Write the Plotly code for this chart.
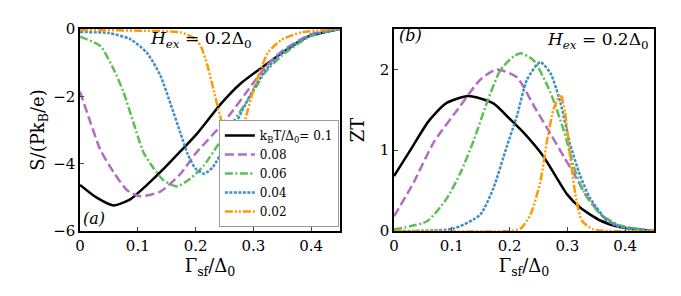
import plotly.graph_objects as go
from plotly.subplots import make_subplots

# --- Data ---
labels = ["k<sub>B</sub>T/Δ<sub>0</sub>= 0.1", "0.08", "0.06", "0.04", "0.02"]
colors = ["#000000", "#b36bc4", "#5cbf55", "#3f8fc8", "#ff9a00"]
dashes = ["solid", "9px,4px", "8px,2.5px,2px,2.5px", "3px,1.5px", "8px,2px,2px,2px,2px,2px"]

# S/(P kB/e) vs Gamma_sf/Delta_0
s_x0 = [0, 0.029, 0.058, 0.087, 0.116, 0.145, 0.174, 0.203, 0.243, 0.278, 0.319, 0.354, 0.394, 0.45]
s_y0 = [-4.63, -5.01, -5.24, -5.06, -4.63, -4.15, -3.63, -3.1, -2.24, -1.62, -1.09, -0.66, -0.23, 0.0]

s_x1 = [0, 0.017, 0.035, 0.058, 0.081, 0.104, 0.139, 0.174, 0.2, 0.25, 0.3, 0.32, 0.35, 0.4, 0.45]
s_y1 = [-1.86, -2.72, -3.58, -4.25, -4.78, -4.97, -4.83, -4.3, -3.7, -2.75, -1.6, -1.15, -0.65, -0.15, 0.0]

s_x2 = [0, 0.035, 0.058, 0.075, 0.093, 0.11, 0.128, 0.145, 0.168, 0.191, 0.214, 0.25, 0.3, 0.32, 0.35, 0.4, 0.45]
s_y2 = [-0.23, -0.5, -1.19, -1.86, -2.81, -3.67, -4.15, -4.5, -4.68, -4.44, -4.06, -3.15, -1.85, -1.3, -0.78, -0.2, 0.0]

s_x3 = [0, 0.05, 0.087, 0.116, 0.139, 0.157, 0.174, 0.186, 0.2, 0.215, 0.23, 0.25, 0.28, 0.3, 0.32, 0.35, 0.4, 0.45]
s_y3 = [-0.09, -0.12, -0.3, -0.71, -1.38, -2.24, -3.1, -3.7, -4.15, -4.3, -4.1, -3.5, -2.45, -1.8, -1.25, -0.7, -0.18, 0.0]

s_x4 = [0, 0.1, 0.174, 0.2, 0.21, 0.22, 0.232, 0.243, 0.255, 0.267, 0.278, 0.29, 0.301, 0.313, 0.325, 0.348, 0.383, 0.45]
s_y4 = [-0.03, -0.05, -0.1, -0.3, -0.55, -1.05, -1.86, -2.62, -3.29, -3.55, -3.19, -2.43, -1.76, -1.19, -0.71, -0.33, -0.1, 0.0]

# ZT vs Gamma_sf/Delta_0
z_x0 = [0, 0.03, 0.06, 0.09, 0.129, 0.172, 0.2, 0.224, 0.259, 0.3, 0.322, 0.357, 0.391, 0.45]
z_y0 = [0.68, 1.02, 1.36, 1.58, 1.67, 1.58, 1.39, 1.22, 0.92, 0.45, 0.29, 0.13, 0.05, 0.0]

z_x1 = [0, 0.034, 0.069, 0.115, 0.149, 0.178, 0.213, 0.242, 0.271, 0.294, 0.317, 0.334, 0.369, 0.41, 0.45]
z_y1 = [0.18, 0.6, 1.1, 1.55, 1.87, 2.0, 1.9, 1.55, 1.2, 0.92, 0.64, 0.42, 0.13, 0.02, 0.0]

z_x2 = [0, 0.057, 0.092, 0.115, 0.138, 0.161, 0.184, 0.207, 0.22, 0.242, 0.271, 0.294, 0.311, 0.328, 0.357, 0.391, 0.45]
z_y2 = [0.02, 0.12, 0.41, 0.72, 1.12, 1.59, 1.99, 2.16, 2.2, 2.11, 1.71, 1.24, 0.8, 0.49, 0.21, 0.07, 0.0]

z_x3 = [0, 0.103, 0.149, 0.172, 0.195, 0.213, 0.23, 0.253, 0.271, 0.288, 0.305, 0.322, 0.339, 0.369, 0.39, 0.45]
z_y3 = [0.0, 0.03, 0.2, 0.53, 1.04, 1.43, 1.87, 2.09, 1.95, 1.59, 1.07, 0.69, 0.41, 0.13, 0.05, 0.0]

z_x4 = [0, 0.2, 0.219, 0.236, 0.253, 0.265, 0.276, 0.288, 0.296, 0.305, 0.314, 0.325, 0.345, 0.45]
z_y4 = [0.0, 0.0, 0.03, 0.2, 0.6, 1.12, 1.5, 1.69, 1.47, 0.92, 0.45, 0.13, 0.02, 0.0]

s_x = [s_x0, s_x1, s_x2, s_x3, s_x4]
s_y = [s_y0, s_y1, s_y2, s_y3, s_y4]
z_x = [z_x0, z_x1, z_x2, z_x3, z_x4]
z_y = [z_y0, z_y1, z_y2, z_y3, z_y4]

x_ticks = [0, 0.1, 0.2, 0.3, 0.4]
x_ticklabels = ["0", "0.1", "0.2", "0.3", "0.4"]
s_ticks = [-6, -4, -2, 0]
s_ticklabels = ["−6", "−4", "−2", "0"]
z_ticks = [0, 1, 2]

FONT = "DejaVu Serif, Liberation Serif, serif"

fig = make_subplots(rows=1, cols=2, horizontal_spacing=0.094)

for i in range(5):
    fig.add_trace(go.Scatter(x=s_x[i], y=s_y[i], mode="lines", name=labels[i],
                             line=dict(color=colors[i], width=2.5, dash=dashes[i], shape="spline", smoothing=0.6),
                             showlegend=True), row=1, col=1)
for i in range(5):
    fig.add_trace(go.Scatter(x=z_x[i], y=z_y[i], mode="lines", name=labels[i],
                             line=dict(color=colors[i], width=2.5, dash=dashes[i], shape="spline", smoothing=0.6),
                             showlegend=False), row=1, col=2)

axis_common = dict(showgrid=False, zeroline=False, ticks="inside", ticklen=4, tickwidth=1,
                   showline=True, linecolor="black", linewidth=1.5, mirror=True,
                   tickfont=dict(family=FONT, size=15, color="black"))

fig.update_xaxes(range=[0, 0.45], tickvals=x_ticks, ticktext=x_ticklabels,
                 title=dict(text="Γ<sub>sf</sub>/Δ<sub>0</sub>", font=dict(family=FONT, size=18, color="black"), standoff=4),
                 **axis_common)
fig.update_yaxes(range=[-6, 0], tickvals=s_ticks, ticktext=s_ticklabels,
                 title=dict(text="S/(Pk<sub>B</sub>/e)", font=dict(family=FONT, size=18, color="black"), standoff=4),
                 row=1, col=1, **axis_common)
fig.update_yaxes(range=[0, 2.5], tickvals=z_ticks,
                 title=dict(text="ZT", font=dict(family=FONT, size=18, color="black"), standoff=10),
                 row=1, col=2, **axis_common)

hex_text = "<i>H<sub>ex</sub></i> = 0.2Δ<sub>0</sub>"
fig.add_annotation(x=0.118, y=-0.3, xref="x", yref="y", text=hex_text, showarrow=False,
                   xanchor="left", yanchor="middle", font=dict(family=FONT, size=17, color="black"))
fig.add_annotation(x=0.445, y=2.36, xref="x2", yref="y2", text=hex_text, showarrow=False,
                   xanchor="right", yanchor="middle", font=dict(family=FONT, size=17, color="black"))
fig.add_annotation(x=0.002, y=-5.97, xref="x", yref="y", text="<i>(a)</i>", showarrow=False,
                   xanchor="left", yanchor="bottom", font=dict(family=FONT, size=16, color="black"))
fig.add_annotation(x=0.005, y=2.42, xref="x2", yref="y2", text="<i>(b)</i>", showarrow=False,
                   xanchor="left", yanchor="middle", font=dict(family=FONT, size=16, color="black"))

fig.update_layout(
    width=681, height=296,
    margin=dict(l=72, r=35, t=13, b=73),
    plot_bgcolor="white", paper_bgcolor="white",
    legend=dict(x=0.451, y=0.02, xanchor="right", yanchor="bottom",
                bgcolor="white", bordercolor="#999999", borderwidth=1,
                font=dict(family=FONT, size=12, color="black"),
                tracegroupgap=0, itemwidth=30),
)

fig.write_html("out.html")
